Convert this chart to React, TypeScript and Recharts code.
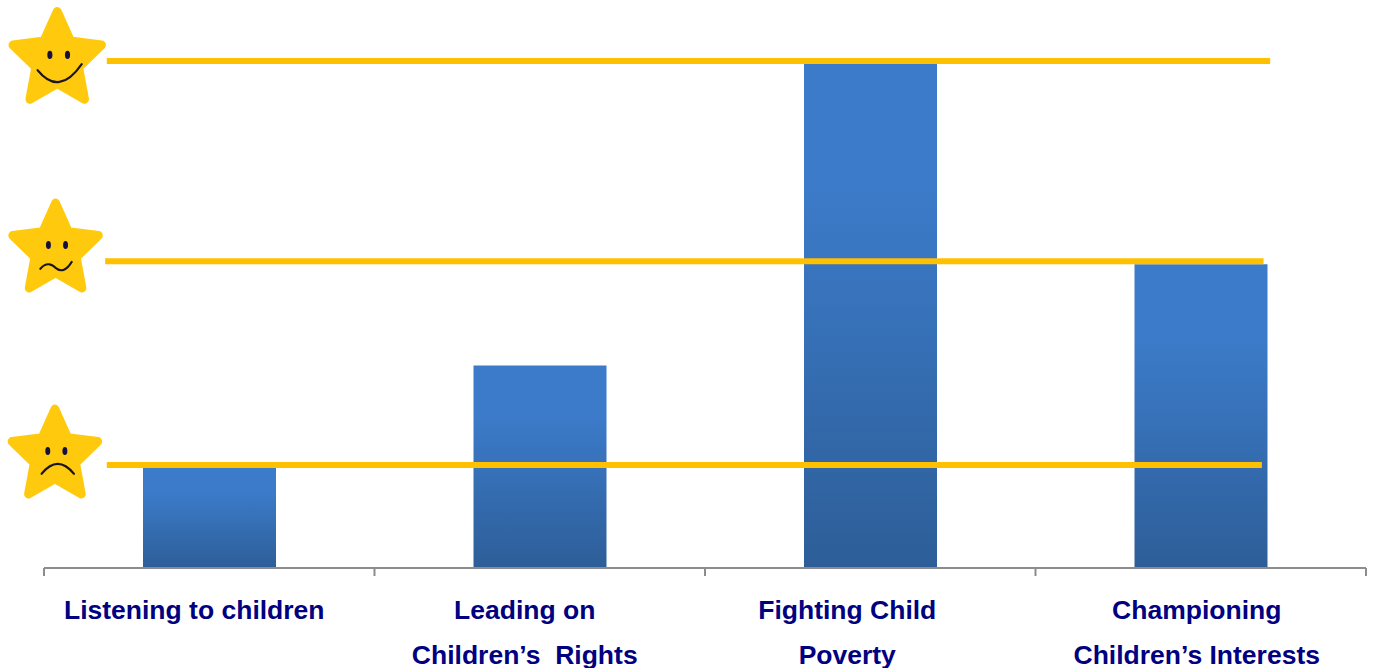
import React from 'react';
import { BarChart, Bar, XAxis, YAxis, ReferenceLine, ReferenceDot } from 'recharts';

const categories = [
  ['Listening to children'],
  ['Leading on', 'Children\u2019s  Rights'],
  ['Fighting Child', 'Poverty'],
  ['Championing', 'Children\u2019s Interests'],
];
const bandCentres = [0.5, 1.5, 2.5, 3.5];
const scores = [1, 2, 5, 3];
const bandEdges = [0, 1, 2, 3, 4];

const targetLevels = [5.006, 3.03, 1.017];
const targetStarts = [0.19, 0.185, 0.19];
const targetEnds = [3.71, 3.69, 3.685];

const starX = [0.04, 0.035, 0.033];
const starY = [5.016, 3.14, 1.106];
const starScale = [1, 0.97, 0.97];
const starMoods = ['happy', 'unsure', 'sad'];

const data = categories.map((c, i) => ({ pos: bandCentres[i], score: scores[i] }));

// label centres sit a little left of the band centres in the original
const labelShift = [-15, -15, -23, -4];

const starPoints = () => {
  const pts: string[] = [];
  for (let i = 0; i < 10; i++) {
    const r = i % 2 === 0 ? 47.5 : 23;
    const a = (Math.PI / 5) * i - Math.PI / 2;
    pts.push(`${(r * Math.cos(a)).toFixed(1)},${(r * Math.sin(a)).toFixed(1)}`);
  }
  return pts.join(' ');
};

const mouths: Record<string, string> = {
  happy: 'M-20 10 Q2 36 25 4',
  unsure: 'M-16 19 C-10 12 -4 14 0 18 C6 23 12 20 17 12',
  sad: 'M-14 18 Q3 -2 20 18',
};

const Star = ({ cx, cy, scale, mood }: any) => (
  <g transform={`translate(${cx},${cy}) scale(${scale * 0.98},${scale * 1.02})`}>
    <polygon points={starPoints()} fill="#FFC90E" stroke="#FFC90E" strokeWidth={9} strokeLinejoin="round" />
    <ellipse cx={-7.5} cy={-5} rx={2.6} ry={4} fill="#14123c" />
    <ellipse cx={10.5} cy={-5} rx={2.6} ry={4} fill="#14123c" />
    <path d={mouths[mood]} fill="none" stroke="#1c1420" strokeWidth={2.2} strokeLinecap="round" />
  </g>
);

const CategoryTick = ({ x, y, index }: any) => {
  const lines = categories[index];
  if (!lines) return null;
  const centre = x + 165.25 + labelShift[index];
  return (
    <text x={centre} textAnchor="middle" fontFamily="Liberation Sans" fontWeight="bold" fontSize={26.5} fill="#000080">
      {lines.map((line, i) => (
        <tspan key={i} x={centre} y={y + 41 + i * 45} style={{ whiteSpace: 'pre' }}>
          {line}
        </tspan>
      ))}
    </text>
  );
};

export default function App() {
  return (
    <div style={{ position: 'absolute', left: 0, top: 0, width: 1373, height: 668, background: '#fff' }}>
      <BarChart width={1373} height={668} data={data} margin={{ top: 11, right: 7, bottom: 0, left: 44 }}>
        <defs>
          <linearGradient id="barFill" x1="0" y1="0" x2="0" y2="1">
            <stop offset="0" stopColor="#3B7BCA" />
            <stop offset="0.25" stopColor="#3C7BC9" />
            <stop offset="1" stopColor="#2D5E98" />
          </linearGradient>
        </defs>
        <XAxis
          dataKey="pos"
          type="number"
          domain={[0, 4]}
          ticks={bandEdges}
          height={100}
          interval={0}
          tick={<CategoryTick />}
          tickSize={8}
          stroke="#8C8C8C"
          axisLine={{ stroke: '#8C8C8C', strokeWidth: 2 }}
          tickLine={{ stroke: '#8C8C8C', strokeWidth: 2 }}
        />
        <YAxis hide domain={[0, 5.5]} />
        <Bar dataKey="score" barSize={133} fill="url(#barFill)" isAnimationActive={false} />
        {targetLevels.map((level, i) => (
          <ReferenceLine
            key={level}
            segment={[
              { x: targetStarts[i], y: level },
              { x: targetEnds[i], y: level },
            ]}
            stroke="#FFC000"
            strokeWidth={6}
          />
        ))}
        {starMoods.map((mood, i) => (
          <ReferenceDot
            key={mood}
            x={starX[i]}
            y={starY[i]}
            ifOverflow="visible"
            shape={(p: any) => <Star cx={p.cx} cy={p.cy} scale={starScale[i]} mood={mood} />}
          />
        ))}
      </BarChart>
    </div>
  );
}
